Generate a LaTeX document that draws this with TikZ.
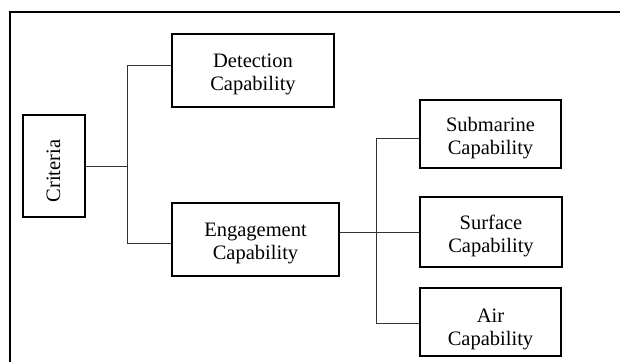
\documentclass[tikz,border=0pt]{standalone}
\usepackage{fontspec}
\setmainfont{Liberation Serif}
\usetikzlibrary{calc}
\tikzset{
  critbox/.style={draw=black,line width=2pt,inner sep=0pt,align=center,
    font=\fontsize{20.5}{23}\selectfont},
  link/.style={draw=black!80,line width=1pt},
  frame/.style={draw=black,line width=2pt}
}
% two-line label, lowered a little inside its box
\newcommand{\boxlabel}[3][4pt]{\raisebox{-#1}[\height][\depth]{%
  \begin{tabular}{@{}c@{}}#2\\#3\end{tabular}}}

\begin{document}
\begin{tikzpicture}[x=1pt,y=-1pt]
\useasboundingbox (0,0) rectangle (620,361);

% outer frame (cut off right and below)
\draw[frame] (9.5,362) -- (9.5,12) -- (621,12);

% root
\node[critbox,minimum width=62pt,minimum height=102pt] (crit) at (53.5,166)
  {\raisebox{-5pt}[\height][\depth]{\rotatebox{90}{Criteria}}};

% first level
\node[critbox,minimum width=162pt,minimum height=73pt] (det) at (253,70.5)
  {\boxlabel{Detection}{Capability}};
\node[critbox,minimum width=167pt,minimum height=73pt] (eng) at (255.5,239.5)
  {\boxlabel{Engagement}{Capability}};

% second level
\node[critbox,minimum width=141pt,minimum height=68pt] (sub) at (490.5,134)
  {\boxlabel{Submarine}{Capability}};
\node[critbox,minimum width=142pt,minimum height=70pt] (surf) at (491,232)
  {\boxlabel{Surface}{Capability}};
\node[critbox,minimum width=141pt,minimum height=68pt] (air) at (490.5,321.5)
  {\boxlabel[8pt]{Air}{Capability}};

% junctions
\coordinate (j1) at (127.3,166);
\coordinate (j2) at (376.8,232);

% links
\draw[link] (crit.east) -- (j1);
\draw[link] (j1) |- ([yshift=5pt]det.west);
\draw[link] (j1) |- ([yshift=-4pt]eng.west);
\draw[link] (eng.east |- surf.west) -- (surf.west);
\draw[link] (j2) |- ([yshift=-4pt]sub.west);
\draw[link] (j2) |- ([yshift=-2pt]air.west);

\end{tikzpicture}
\end{document}
